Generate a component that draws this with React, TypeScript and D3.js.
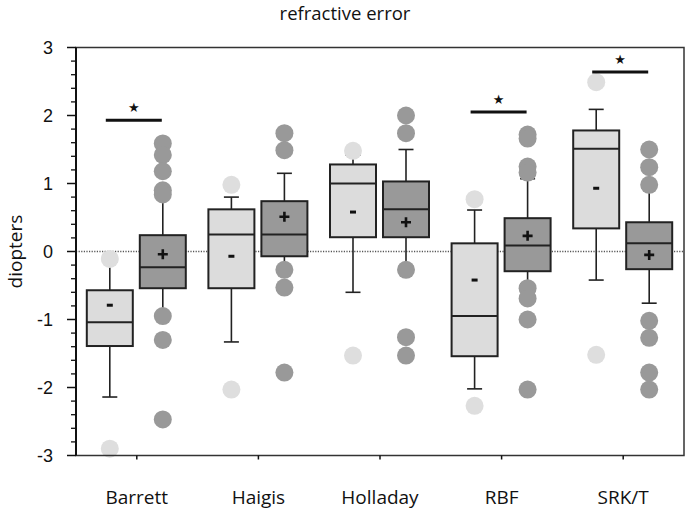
import React from 'react';
import * as d3 from 'd3';

const titleText = 'refractive error';
const yLabel = 'diopters';
const categories = ['Barrett', 'Haigis', 'Holladay', 'RBF', 'SRK/T'];
const yTicks = [-3, -2, -1, 0, 1, 2, 3];

// light-grey series (left box in each pair)
const lightQ1 = [-1.39, -0.54, 0.21, -1.54, 0.34];
const lightMedian = [-1.04, 0.25, 1.0, -0.95, 1.51];
const lightQ3 = [-0.57, 0.62, 1.28, 0.12, 1.78];
const lightMin = [-2.14, -1.33, -0.6, -2.02, -0.42];
const lightMax = [-0.15, 0.8, 1.42, 0.61, 2.09];
const lightMean = [-0.79, -0.07, 0.58, -0.42, 0.93];
const lightOutliers = [
  [-0.11, -2.9],
  [0.98, -2.03],
  [1.48, -1.53],
  [0.77, -2.27],
  [2.49, -1.52],
];

// dark-grey series (right box in each pair)
const darkQ1 = [-0.54, -0.07, 0.21, -0.29, -0.26];
const darkMedian = [-0.23, 0.25, 0.62, 0.09, 0.12];
const darkQ3 = [0.24, 0.74, 1.03, 0.49, 0.43];
const darkMin = [-0.9, -0.22, -0.22, -0.48, -0.76];
const darkMax = [0.83, 1.15, 1.5, 1.07, 0.93];
const darkMean = [-0.04, 0.51, 0.43, 0.23, -0.05];
const darkOutliers = [
  [1.59, 1.42, 1.18, 0.9, 0.84, -0.95, -1.3, -2.47],
  [1.74, 1.49, -0.27, -0.53, -1.78],
  [2.0, 1.74, -0.27, -1.26, -1.53],
  [1.72, 1.66, 1.25, 1.16, -0.54, -0.69, -1.0, -2.03],
  [1.5, 1.24, 0.98, -1.02, -1.27, -1.78, -2.03],
];

// significance markers
const sigCategories = ['Barrett', 'RBF', 'SRK/T'];
const sigLevels = [1.93, 2.05, 2.64];

export default function App() {
  const W = 685;
  const H = 509;
  const left = 76;
  const right = 684;
  const top = 47.5;
  const bottom = 455.5;

  const x = d3.scaleBand<string>().domain(categories).range([left, right]);
  const y = d3.scaleLinear().domain([-3, 3]).range([bottom, top]);
  const cx = (c: string) => (x(c) as number) + x.bandwidth() / 2;
  const minorTicks = y.ticks(30).filter((t) => Math.abs(t - Math.round(t)) > 1e-6);

  const boxW = 46;
  const capW = 15;
  const r = 9;

  const series = [
    { key: 'light', offset: -27, fill: '#dcdcdc', dot: '#dedede', marker: 'minus', q1: lightQ1, med: lightMedian, q3: lightQ3, lo: lightMin, hi: lightMax, mean: lightMean, out: lightOutliers },
    { key: 'dark', offset: 26, fill: '#999999', dot: '#999999', marker: 'plus', q1: darkQ1, med: darkMedian, q3: darkQ3, lo: darkMin, hi: darkMax, mean: darkMean, out: darkOutliers },
  ];

  const stroke = '#222';
  const labelFont = '"Open Sans", sans-serif';
  const numFont = '"Liberation Sans", Arial, sans-serif';

  return (
    <svg width={W} height={H} style={{ position: 'absolute', left: 0, top: 0, background: '#fff' }}>
      <text x={345} y={20} textAnchor="middle" fontFamily={labelFont} fontSize={18.5} fill="#111">{titleText}</text>

      {/* zero reference line */}
      <line x1={left} x2={right} y1={y(0)} y2={y(0)} stroke="#555" strokeWidth={1.3} strokeDasharray="1.2,1.4" />

      {series.map((s) =>
        categories.map((c, i) => {
          const xc = cx(c) + s.offset;
          return (
            <g key={s.key + c}>
              <line x1={xc} x2={xc} y1={y(s.q3[i])} y2={y(s.hi[i])} stroke={stroke} strokeWidth={1.6} />
              <line x1={xc} x2={xc} y1={y(s.q1[i])} y2={y(s.lo[i])} stroke={stroke} strokeWidth={1.6} />
              <line x1={xc - capW / 2} x2={xc + capW / 2} y1={y(s.hi[i])} y2={y(s.hi[i])} stroke={stroke} strokeWidth={1.6} />
              <line x1={xc - capW / 2} x2={xc + capW / 2} y1={y(s.lo[i])} y2={y(s.lo[i])} stroke={stroke} strokeWidth={1.6} />
              <rect x={xc - boxW / 2} y={y(s.q3[i])} width={boxW} height={y(s.q1[i]) - y(s.q3[i])} fill={s.fill} stroke={stroke} strokeWidth={2} />
              <line x1={xc - boxW / 2} x2={xc + boxW / 2} y1={y(s.med[i])} y2={y(s.med[i])} stroke={stroke} strokeWidth={2} />
            </g>
          );
        })
      )}

      {series.map((s) =>
        categories.map((c, i) => {
          const xc = cx(c) + s.offset;
          const ym = y(s.mean[i]);
          return (
            <g key={'o' + s.key + c}>
              {s.out[i].map((v, j) => (
                <circle key={j} cx={xc} cy={y(v)} r={r} fill={s.dot} />
              ))}
              {s.marker === 'minus' ? (
                <rect x={xc - 3} y={ym - 1.5} width={6} height={3} fill="#111" />
              ) : (
                <path d={`M${xc - 5},${ym}H${xc + 5}M${xc},${ym - 5}V${ym + 5}`} stroke="#111" strokeWidth={2.6} />
              )}
            </g>
          );
        })
      )}

      {sigCategories.map((c, i) => {
        const x1 = cx(c) - 31;
        const x2 = cx(c) + 25;
        return (
          <g key={'sig' + c}>
            <line x1={x1} x2={x2} y1={y(sigLevels[i])} y2={y(sigLevels[i])} stroke="#111" strokeWidth={3} />
            <text x={(x1 + x2) / 2} y={y(sigLevels[i]) - 8} textAnchor="middle" fontFamily='"DejaVu Sans", sans-serif' fontSize={13} fill="#111">★</text>
          </g>
        );
      })}

      {/* frame */}
      <rect x={left} y={top} width={right - left} height={bottom - top} fill="none" stroke="#333" strokeWidth={1.5} />
      <line x1={left} x2={left} y1={top} y2={bottom} stroke="#111" strokeWidth={2} />

      {/* y axis ticks */}
      {yTicks.map((t) => (
        <g key={'yt' + t}>
          <line x1={left - 9} x2={left} y1={y(t)} y2={y(t)} stroke="#111" strokeWidth={1.5} />
          <text x={53} y={y(t)} dy="0.36em" textAnchor="end" fontFamily={numFont} fontSize={18} fill="#111">{t}</text>
        </g>
      ))}
      {minorTicks.map((t) => (
        <line key={'ym' + t} x1={left - 5} x2={left} y1={y(t)} y2={y(t)} stroke="#111" strokeWidth={1.3} />
      ))}

      {/* x axis */}
      {categories.map((c) => (
        <g key={'xt' + c}>
          <line x1={cx(c)} x2={cx(c)} y1={bottom} y2={bottom + 4} stroke="#111" strokeWidth={1.5} />
          <text x={cx(c)} y={504} textAnchor="middle" fontFamily={labelFont} fontSize={19} fill="#111">{c}</text>
        </g>
      ))}

      <text transform={`translate(22, ${y(0)}) rotate(-90)`} textAnchor="middle" fontFamily={labelFont} fontSize={19} fill="#111">{yLabel}</text>
    </svg>
  );
}
